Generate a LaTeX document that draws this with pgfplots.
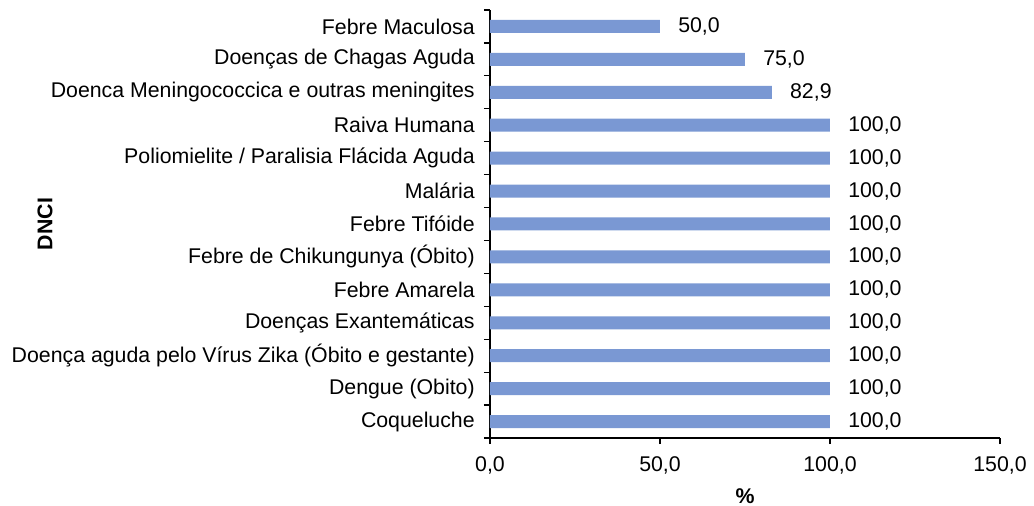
\documentclass[border=0pt]{standalone}
\usepackage{fontspec}
\setmainfont{Liberation Sans}
\usepackage{pgfplots}
\pgfplotsset{compat=1.18}
\definecolor{barblue}{RGB}{122,152,211}
\begin{document}
\fontsize{21.3}{25}\selectfont
\begin{tikzpicture}
\path[use as bounding box] (-490pt,-68pt) rectangle (544pt,438pt);
\begin{axis}[
  scale only axis, width=510pt, height=428pt,
  xbar, bar width=13pt,
  xmin=0, xmax=150, ymin=-0.5, ymax=12.5,
  axis x line*=bottom, axis y line*=left,
  axis line style={black, line width=1.2pt},
  xtick={0,50,100,150},
  tick align=outside,
  major tick length=6pt, minor tick length=6pt,
  major x tick style={black, line width=1.2pt},
  ytick={0,...,12},
  major y tick style={draw=none},
  minor ytick={-0.5,0.5,...,12.5},
  minor y tick style={black, line width=1.2pt},
  yticklabels={Coqueluche, Dengue (Obito), Doença aguda pelo Vírus Zika (Óbito e gestante), Doenças Exantemáticas, Febre Amarela, Febre de Chikungunya (Óbito), Febre Tifóide, Malária, Poliomielite / Paralisia Flácida Aguda, Raiva Humana, Doenca Meningococcica e outras meningites, Doenças de Chagas Aguda, Febre Maculosa},
  yticklabel style={xshift=-2pt},
  xticklabel style={yshift=-5pt},
  /pgf/number format/fixed,
  /pgf/number format/fixed zerofill,
  /pgf/number format/precision=1,
  /pgf/number format/use comma,
  /pgf/number format/assume math mode=true,
  nodes near coords,
  every node near coord/.append style={anchor=west, xshift=11pt, black},
  xlabel={\textbf{\%}},
  ylabel={\textbf{DNCI}},
  every axis x label/.style={at={(axis description cs:0.5,-0.135)}, anchor=center},
  every axis y label/.style={at={(axis description cs:-0.8725,0.5)}, anchor=center, rotate=90},
]
\addplot[fill=barblue, draw=none] coordinates {
(100,0) (100,1) (100,2) (100,3) (100,4) (100,5) (100,6) (100,7) (100,8) (100,9) (82.9,10) (75,11) (50,12)
};
\end{axis}
\end{tikzpicture}
\end{document}
